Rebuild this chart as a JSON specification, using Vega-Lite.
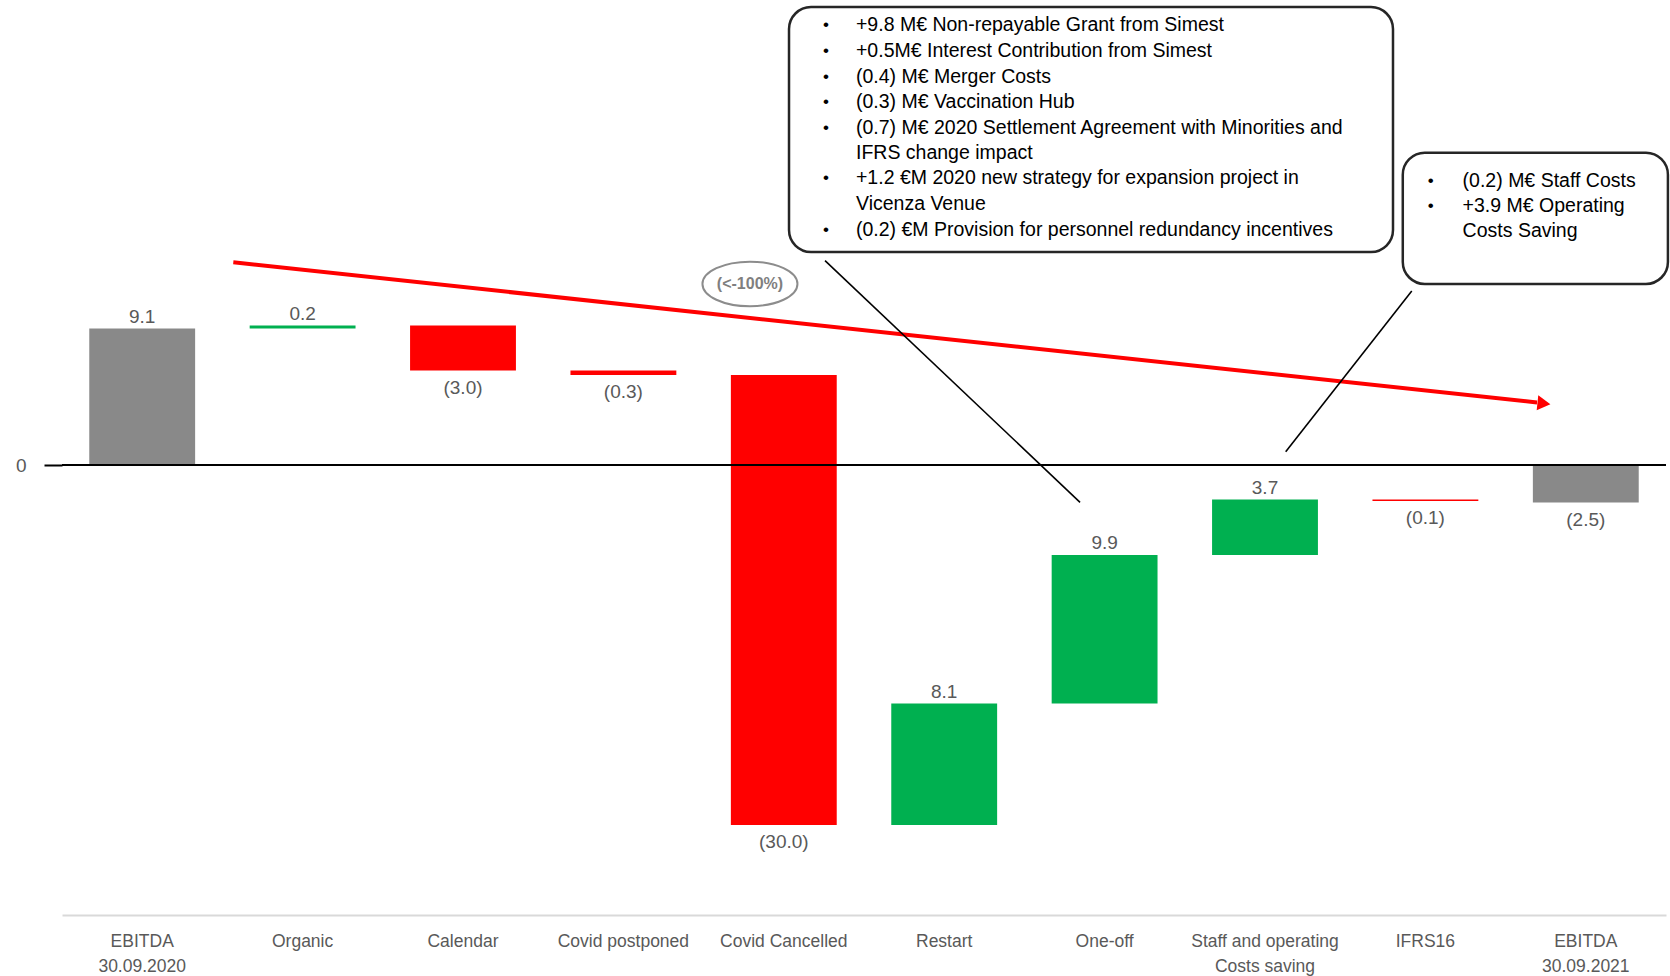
{
  "$schema": "https://vega.github.io/schema/vega-lite/v6.json",
  "width": 1604,
  "height": 915,
  "autosize": {"type": "none"},
  "padding": {"left": 62, "top": 0, "right": 4, "bottom": 61},
  "background": "white",
  "config": {"view": {"stroke": null}, "font": "Liberation Sans"},
  "datasets": {
    "bars": [
      {"step": "EBITDA 30.09.2020", "start": 0, "end": 9.1, "label": "9.1", "kind": "total"},
      {"step": "Organic", "start": 9.1, "end": 9.3, "label": "0.2", "kind": "up"},
      {"step": "Calendar", "start": 9.3, "end": 6.3, "label": "(3.0)", "kind": "down"},
      {"step": "Covid postponed", "start": 6.3, "end": 6.0, "label": "(0.3)", "kind": "down"},
      {"step": "Covid Cancelled", "start": 6.0, "end": -24.0, "label": "(30.0)", "kind": "down"},
      {"step": "Restart", "start": -24.0, "end": -15.9, "label": "8.1", "kind": "up"},
      {"step": "One-off", "start": -15.9, "end": -6.0, "label": "9.9", "kind": "up"},
      {"step": "Staff and operating Costs saving", "start": -6.0, "end": -2.3, "label": "3.7", "kind": "up"},
      {"step": "IFRS16", "start": -2.3, "end": -2.4, "label": "(0.1)", "kind": "down"},
      {"step": "EBITDA 30.09.2021", "start": 0, "end": -2.5, "label": "(2.5)", "kind": "total"}
    ],
    "trend": [{"u": 1.068, "v": 13.51, "u2": 9.196, "v2": 4.167}],
    "arrowhead": [{"u": 9.239, "v": 4.1}],
    "connectors": [
      {"u": 4.757, "v": 13.62, "u2": 6.347, "v2": -2.487},
      {"u": 8.415, "v": 11.6, "u2": 7.629, "v2": 0.887}
    ],
    "boxes": [
      {"u": 4.5325, "u2": 8.298, "v": 30.53, "v2": 14.2},
      {"u": 8.359, "u2": 10.012, "v": 20.82, "v2": 12.07}
    ],
    "bullets": [
      {"u": 4.763, "v": 29.33}, {"u": 4.763, "v": 27.62}, {"u": 4.763, "v": 25.89},
      {"u": 4.763, "v": 24.18}, {"u": 4.763, "v": 22.49}, {"u": 4.763, "v": 19.11},
      {"u": 4.763, "v": 15.67}, {"u": 8.533, "v": 18.95}, {"u": 8.533, "v": 17.29}
    ],
    "notes": [
      {"u": 4.95, "v": 29.33, "text": "+9.8 M€ Non-repayable Grant from Simest"},
      {"u": 4.95, "v": 27.62, "text": "+0.5M€ Interest Contribution from Simest"},
      {"u": 4.95, "v": 25.89, "text": "(0.4) M€ Merger Costs"},
      {"u": 4.95, "v": 24.18, "text": "(0.3) M€ Vaccination Hub"},
      {"u": 4.95, "v": 22.49, "text": "(0.7) M€ 2020 Settlement Agreement with Minorities and"},
      {"u": 4.95, "v": 20.78, "text": "IFRS change impact"},
      {"u": 4.95, "v": 19.11, "text": "+1.2 €M 2020 new strategy for expansion project in"},
      {"u": 4.95, "v": 17.4, "text": "Vicenza Venue"},
      {"u": 4.95, "v": 15.67, "text": "(0.2) €M Provision for personnel redundancy incentives"},
      {"u": 8.732, "v": 18.95, "text": "(0.2) M€ Staff Costs"},
      {"u": 8.732, "v": 17.29, "text": "+3.9 M€ Operating"},
      {"u": 8.732, "v": 15.62, "text": "Costs Saving"}
    ],
    "badge": [{"u": 4.289, "v": 12.07, "text": "(<-100%)"}]
  },
  "layer": [
    {
      "data": {"name": "bars"},
      "mark": {"type": "bar"},
      "encoding": {
        "x": {
          "field": "step", "type": "nominal", "sort": null,
          "scale": {"paddingInner": 0.34, "paddingOuter": 0.17},
          "axis": {
            "title": null, "labelAngle": 0, "ticks": false,
            "domainColor": "#d9d9d9", "domainWidth": 2,
            "labelFont": "Liberation Sans", "labelFontSize": 17.5, "labelColor": "#595959",
            "labelPadding": 17, "labelLineHeight": 25,
            "labelExpr": "datum.value == 'EBITDA 30.09.2020' ? ['EBITDA', '30.09.2020'] : datum.value == 'EBITDA 30.09.2021' ? ['EBITDA', '30.09.2021'] : datum.value == 'Staff and operating Costs saving' ? ['Staff and operating', 'Costs saving'] : datum.value"
          }
        },
        "y": {
          "field": "start", "type": "quantitative",
          "scale": {"domain": [-30, 31], "nice": false, "zero": false},
          "axis": {
            "values": [0], "title": null, "domain": false, "grid": false,
            "tickSize": 18, "tickColor": "black", "tickWidth": 2,
            "labelFont": "Liberation Sans", "labelFontSize": 19, "labelColor": "#595959", "labelPadding": 18
          }
        },
        "y2": {"field": "end"},
        "color": {
          "field": "kind", "type": "nominal",
          "scale": {"domain": ["total", "up", "down"], "range": ["#898989", "#00b050", "#ff0000"]},
          "legend": null
        }
      }
    },
    {
      "data": {"values": [{}]},
      "mark": {"type": "rule", "color": "black", "strokeWidth": 2},
      "encoding": {
        "y": {"datum": 0, "type": "quantitative", "scale": {"domain": [-30, 31], "nice": false, "zero": false}, "axis": null}
      }
    },
    {
      "data": {"name": "bars"},
      "transform": [{"filter": "datum.end >= datum.start"}],
      "mark": {"type": "text", "align": "center", "baseline": "alphabetic", "dy": -6, "fontSize": 19, "color": "#595959", "font": "Liberation Sans"},
      "encoding": {
        "x": {"field": "step", "type": "nominal", "sort": null, "scale": {"domain": ["EBITDA 30.09.2020", "Organic", "Calendar", "Covid postponed", "Covid Cancelled", "Restart", "One-off", "Staff and operating Costs saving", "IFRS16", "EBITDA 30.09.2021"], "paddingInner": 0.34, "paddingOuter": 0.17}, "axis": null},
        "y": {"field": "end", "type": "quantitative", "scale": {"domain": [-30, 31], "nice": false, "zero": false}, "axis": null},
        "text": {"field": "label"}
      }
    },
    {
      "data": {"name": "bars"},
      "transform": [{"filter": "datum.end < datum.start"}],
      "mark": {"type": "text", "align": "center", "baseline": "alphabetic", "dy": 23, "fontSize": 19, "color": "#595959", "font": "Liberation Sans"},
      "encoding": {
        "x": {"field": "step", "type": "nominal", "sort": null, "scale": {"domain": ["EBITDA 30.09.2020", "Organic", "Calendar", "Covid postponed", "Covid Cancelled", "Restart", "One-off", "Staff and operating Costs saving", "IFRS16", "EBITDA 30.09.2021"], "paddingInner": 0.34, "paddingOuter": 0.17}, "axis": null},
        "y": {"field": "end", "type": "quantitative", "scale": {"domain": [-30, 31], "nice": false, "zero": false}, "axis": null},
        "text": {"field": "label"}
      }
    },
    {
      "data": {"name": "trend"},
      "mark": {"type": "rule", "color": "#ff0000", "strokeWidth": 4},
      "encoding": {
        "x": {"field": "u", "type": "quantitative", "scale": {"domain": [0, 10], "nice": false, "zero": false}, "axis": null},
        "y": {"field": "v", "type": "quantitative", "scale": {"domain": [-30, 31], "nice": false, "zero": false}, "axis": null},
        "x2": {"field": "u2"},
        "y2": {"field": "v2"}
      }
    },
    {
      "data": {"name": "arrowhead"},
      "mark": {"type": "point", "shape": "triangle-right", "filled": true, "color": "#ff0000", "opacity": 1, "size": 225, "angle": 6.14},
      "encoding": {
        "x": {"field": "u", "type": "quantitative", "scale": {"domain": [0, 10], "nice": false, "zero": false}, "axis": null},
        "y": {"field": "v", "type": "quantitative", "scale": {"domain": [-30, 31], "nice": false, "zero": false}, "axis": null}
      }
    },
    {
      "data": {"name": "connectors"},
      "mark": {"type": "rule", "color": "black", "strokeWidth": 1.6},
      "encoding": {
        "x": {"field": "u", "type": "quantitative", "scale": {"domain": [0, 10], "nice": false, "zero": false}, "axis": null},
        "y": {"field": "v", "type": "quantitative", "scale": {"domain": [-30, 31], "nice": false, "zero": false}, "axis": null},
        "x2": {"field": "u2"},
        "y2": {"field": "v2"}
      }
    },
    {
      "data": {"name": "boxes"},
      "mark": {"type": "rect", "fill": "white", "stroke": "#262626", "strokeWidth": 2.5, "cornerRadius": 22},
      "encoding": {
        "x": {"field": "u", "type": "quantitative", "scale": {"domain": [0, 10], "nice": false, "zero": false}, "axis": null},
        "y": {"field": "v", "type": "quantitative", "scale": {"domain": [-30, 31], "nice": false, "zero": false}, "axis": null},
        "x2": {"field": "u2"},
        "y2": {"field": "v2"}
      }
    },
    {
      "data": {"name": "bullets"},
      "mark": {"type": "text", "text": "•", "align": "center", "baseline": "middle", "fontSize": 17, "color": "black", "font": "Liberation Sans"},
      "encoding": {
        "x": {"field": "u", "type": "quantitative", "scale": {"domain": [0, 10], "nice": false, "zero": false}, "axis": null},
        "y": {"field": "v", "type": "quantitative", "scale": {"domain": [-30, 31], "nice": false, "zero": false}, "axis": null}
      }
    },
    {
      "data": {"name": "notes"},
      "mark": {"type": "text", "align": "left", "baseline": "middle", "fontSize": 19.5, "color": "black", "font": "Liberation Sans"},
      "encoding": {
        "x": {"field": "u", "type": "quantitative", "scale": {"domain": [0, 10], "nice": false, "zero": false}, "axis": null},
        "y": {"field": "v", "type": "quantitative", "scale": {"domain": [-30, 31], "nice": false, "zero": false}, "axis": null},
        "text": {"field": "text"}
      }
    },
    {
      "data": {"name": "badge"},
      "mark": {"type": "point", "shape": "M-1,0 A1,0.47 0 1,1 1,0 A1,0.47 0 1,1 -1,0 Z", "filled": false, "stroke": "#8c8c8c", "strokeWidth": 2, "opacity": 1, "size": 9025},
      "encoding": {
        "x": {"field": "u", "type": "quantitative", "scale": {"domain": [0, 10], "nice": false, "zero": false}, "axis": null},
        "y": {"field": "v", "type": "quantitative", "scale": {"domain": [-30, 31], "nice": false, "zero": false}, "axis": null}
      }
    },
    {
      "data": {"name": "badge"},
      "mark": {"type": "text", "align": "center", "baseline": "middle", "fontSize": 16, "fontWeight": "bold", "color": "#7f7f7f", "font": "Liberation Sans"},
      "encoding": {
        "x": {"field": "u", "type": "quantitative", "scale": {"domain": [0, 10], "nice": false, "zero": false}, "axis": null},
        "y": {"field": "v", "type": "quantitative", "scale": {"domain": [-30, 31], "nice": false, "zero": false}, "axis": null},
        "text": {"field": "text"}
      }
    }
  ],
  "resolve": {"scale": {"x": "independent"}, "axis": {"x": "independent", "y": "independent"}}
}
